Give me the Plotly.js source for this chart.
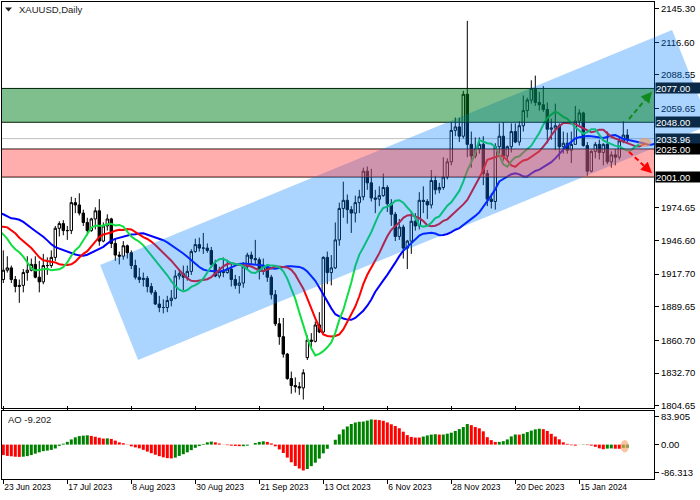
<!DOCTYPE html>
<html><head><meta charset="utf-8">
<script src="https://cdn.plot.ly/plotly-3.0.1.min.js"></script>
<style>html,body{margin:0;padding:0;background:#fff;}#chart{width:700px;height:500px;}</style>
</head><body><div id="chart"></div>
<script>
// ---------------- DATA ----------------
const symbolTitle = 'XAUUSD,Daily';
const aoLabel = 'AO -9.202';
const dateTickBars = [0, 16, 32, 48, 64, 80, 96, 112, 128, 144];
const dateTickLabels = ['23 Jun 2023','17 Jul 2023','8 Aug 2023','30 Aug 2023','21 Sep 2023','13 Oct 2023','6 Nov 2023','28 Nov 2023','20 Dec 2023','15 Jan 2024'];
const priceTicks = [2145.30, 2116.60, 2088.55, 2059.65, 1974.65, 1946.60, 1917.70, 1889.65, 1860.70, 1832.70, 1804.65];
const aoScaleTicks = [83.905, 0, -86.313];
const greenZone = [2048.00, 2077.00];
const redZone = [2001.00, 2025.00];

// daily bars 23 Jun 2023 .. 31 Jan 2024
const open = [
 1913,1921,1923,1913,1907,1908,
 1919,1921,1926,1915,1911, 1925,1925,1932,1957,1961, 1955,1955,1979,1977,1970, 1962,1955,1965,1972,1946, 1959,
 1965,1944,1934,1933, 1942,1936,1925,1915,1913, 1914,1907,1902,1892,1889, 1889,1895,1897,1916,1918, 1915,1920,1937,1943,
 1940, 1940,1938,1926,1916,1920, 1919,1922,1913,1908,1910, 1924,1934,1931,1930,1920, 1925,1915,1900,1875,1864,
 1849,1828,1822,1821,1820, 1846,1861,1860,1874,1868, 1932,1919,1923,1947,1974, 1981,1973,1970,1979,1984, 2006,1996,
 1983,1982,1985, 1992,1978,1969,1950,1958, 1940,1946,1963,1959,1981, 1980,1977,1998,1990,1992, 2001,2014,2041,2044,
 2036, 2072,2029,2019,2025,2029, 2004,1982,1980,2027,2036, 2019,2027,2040,2031,2045, 2058,2067,2077,2065,
 2063,2059,2042,2043, 2045,2027,2030,2024,2029, 2049,2056,2028,2006,2023, 2029,2022,2029,2014,2020, 2018,2032,2037
];
const high = [
 1938,1933,1925,1916,1913,1922,
 1933,1931,1933,1929,1935, 1932,1938,1959,1963,1964, 1959,1984,1983,1987,1973, 1966,1966,1975,1982,1962, 1969,
 1966,1948,1937,1946, 1943,1938,1930,1923,1919, 1916,1910,1904,1899,1896, 1899,1904,1921,1922,1925, 1925,1939,1948,1949,
 1953, 1944,1941,1930,1924,1932, 1930,1928,1917,1916,1928, 1936,1937,1947,1932,1931, 1926,1917,1904,1880,1880,
 1850,1834,1829,1825,1836, 1865,1867,1877,1885,1933, 1937,1934,1962,1979,1997, 1986,1976,1985,1990,2009, 2010,2008,
 1990,1993,2004, 1994,1982,1971,1965,1960, 1947,1971,1970,1988,1993, 1982,2007,2002,1996,2018, 2017,2048,2052,2052,
 2075, 2135,2040,2035,2035,2036, 2007,1987,2030,2047,2048, 2028,2047,2047,2049,2071, 2069,2084,2088,2074,
 2079,2065,2051,2064, 2047,2040,2039,2040,2062, 2059,2057,2031,2024,2031, 2033,2030,2040,2023,2025, 2035,2049,2042
];
const low = [
 1910,1919,1910,1902,1893,1902,
 1912,1920,1914,1902,1909, 1917,1923,1929,1950,1951, 1947,1952,1970,1968,1959, 1951,1954,1956,1942,1945, 1955,
 1940,1929,1926,1930, 1931,1922,1913,1910,1907, 1902,1900,1891,1885,1884, 1885,1890,1896,1913,1904, 1912,1917,1936,1937,
 1935, 1936,1923,1915,1914,1915, 1918,1907,1905,1901,1906, 1922,1926,1926,1913,1917, 1911,1896,1873,1857,1846,
 1827,1815,1816,1814,1810, 1844,1855,1859,1867,1867, 1909,1908,1922,1942,1966, 1961,1953,1962,1970,1981, 1990,1980,
 1970,1976,1984, 1971,1959,1946,1947,1931, 1922,1935,1955,1956,1970, 1965,1974,1986,1987,1990, 1999,2011,2036,2031,
 2034, 2018,2009,2017,2021,1994, 1976,1974,1973,2021,2015, 2016,2022,2030,2028,2040, 2052,2064,2062,2058,
 2057,2030,2033,2024, 2016,2021,2021,2013,2029, 2045,2027,2002,2005,2017, 2016,2011,2012,2009,2011, 2016,2030,2030
];
const close = [
 1921,1923,1913,1907,1908,1919,
 1921,1926,1915,1911,1925, 1925,1932,1957,1961,1955, 1955,1979,1977,1970,1962, 1955,1965,1972,1946,1959, 1965,
 1944,1934,1933,1942, 1936,1925,1915,1913,1914, 1907,1902,1892,1889,1889, 1895,1897,1916,1918,1915, 1920,1937,1943,1940,
 1940, 1938,1926,1916,1920,1919, 1922,1913,1908,1910,1924, 1934,1931,1930,1920,1925, 1915,1900,1875,1864,1849,
 1828,1822,1821,1820,1833, 1861,1860,1874,1868,1932, 1919,1923,1947,1974,1981, 1973,1970,1979,1984,2006, 1996,1983,
 1982,1985,1992, 1978,1969,1950,1958,1940, 1946,1963,1959,1981,1980, 1977,1998,1990,1992,2001, 2014,2041,2044,2036,
 2072, 2029,2019,2025,2029,2004, 1982,1980,2027,2036,2019, 2027,2040,2031,2045,2058, 2067,2077,2065,2063,
 2059,2042,2043,2045, 2027,2030,2024,2029,2049, 2056,2028,2006,2023,2029, 2022,2029,2014,2020,2018, 2032,2037,2033.96
];
// bars before the visible window (20 Apr .. 22 Jun 2023), only used to warm up the indicators
const priorHigh = [2013,2006,1995,2004,2009,2003,1998, 1991,2019,2041,2081,2049, 2029,2037,2048,2037,2022,
 2022,2022,1993,1985,1984, 1983,1982,1985,1963,1957, 1948,1963,1974,1983,1983, 1964,1966,1967,1966,1972,
 1963,1971,1960,1959,1969, 1960,1950,1940,1934];
const priorLow = [1993,1975,1974,1986,1985,1974,1976, 1969,1977,2013,2033,2005, 2015,2018,2018,2009,2005,
 2008,1987,1974,1952,1951, 1969,1955,1957,1936,1938, 1938,1932,1955,1956,1947, 1938,1951,1940,1938,1958,
 1949,1940,1939,1925,1953, 1947,1930,1925,1910];

// ---------------- INDICATORS (Alligator 13/8, 8/5, 5/3 on median; AO 5/34) ----------------
const P = priorHigh.length, N = close.length;
const allHigh = priorHigh.concat(high), allLow = priorLow.concat(low);
const median = allHigh.map((h, k) => (h + allLow[k]) / 2);
function sma(src, n) {
  return src.map((_, k) => {
    if (k < n - 1) return null;
    let s = 0; for (let q = k - n + 1; q <= k; q++) s += src[q]; return s / n;
  });
}
function smma(src, n) {
  const out = new Array(src.length).fill(null); let s = 0;
  for (let k = n - 1; k < src.length; k++) {
    if (k === n - 1) { let t = 0; for (let q = 0; q < n; q++) t += src[q]; s = t / n; }
    else s = (s * (n - 1) + src[k]) / n;
    out[k] = s;
  }
  return out;
}
function shifted(series, shift) {
  const xs = [], ys = [];
  series.forEach((v, k) => { if (v === null) return; const xi = k - P + shift; if (xi < -3) return; xs.push(xi); ys.push(v); });
  return { xs, ys };
}
const jaw = shifted(smma(median, 13), 8);
const teeth = shifted(smma(median, 8), 5);
const lips = shifted(smma(median, 5), 3);
const sma5 = sma(median, 5), sma34 = sma(median, 34);
const bars = Array.from({ length: N }, (_, i) => i);
const ao = bars.map(i => sma5[i + P] - sma34[i + P]);
const aoBefore = sma5[P - 1] - sma34[P - 1];
const aoColors = ao.map((v, i) => v > (i ? ao[i - 1] : aoBefore) ? '#008000' : '#ff0000');
const lastPrice = close[N - 1];

// ---------------- LAYOUT GEOMETRY ----------------
const W = 700, H = 500, M = { l: 2, r: 46, t: 2, b: 21 };
const pw = W - M.l - M.r, ph = H - M.t - M.b;
const xr = [-0.325, 162.675];
const yr = [1802.75, 2151.19];
const aoR = [-104.55, 102.14];
const mainDom = [0.14885, 1], aoDom = [0, 0.14256];
const pxX = x => (x - M.l) / pw;
const pxY = y => (H - M.b - y) / ph;
const ix2p = i => (i - xr[0]) / (xr[1] - xr[0]);
const pr2p = p => mainDom[0] + (p - yr[0]) / (yr[1] - yr[0]) * (mainDom[1] - mainDom[0]);

// channel corners (bar index, price)
const chA = [24.2, 1925.5], chB = [167.2, 2127.2], chD = [33.7, 1844.0];
const chC = [chB[0] + chD[0] - chA[0], chB[1] + chD[1] - chA[1]];
const chPath = [chA, chB, chC, chD].map((p, k) => (k ? 'L' : 'M') + ix2p(p[0]) + ',' + pr2p(p[1])).join(' ') + ' Z';

function arrow(t, h, color) {
  const dx = h[0] - t[0], dy = h[1] - t[1], L = Math.hypot(dx, dy), ux = dx / L, uy = dy / L;
  const hl = 11, hw = 5.5, bx = h[0] - ux * hl, by = h[1] - uy * hl, nx = -uy, ny = ux;
  const p1 = [bx + nx * hw, by + ny * hw], p2 = [bx - nx * hw, by - ny * hw];
  return [
    { type: 'line', xref: 'paper', yref: 'paper', x0: pxX(t[0]), y0: pxY(t[1]), x1: pxX(bx), y1: pxY(by), line: { color, width: 2, dash: '5px,3px' }, layer: 'above' },
    { type: 'path', xref: 'paper', yref: 'paper', path: `M${pxX(h[0])},${pxY(h[1])} L${pxX(p1[0])},${pxY(p1[1])} L${pxX(p2[0])},${pxY(p2[1])} Z`, fillcolor: color, line: { width: 0 }, layer: 'above' }
  ];
}

const FONT = 'Liberation Sans, Arial, sans-serif';
const hline = (y, color) => ({ type: 'line', xref: 'x', yref: 'y', x0: xr[0], x1: xr[1], y0: y, y1: y, line: { color, width: 1 }, layer: 'above' });

const shapes = [
  { type: 'line', xref: 'x', yref: 'y', x0: xr[0], x1: xr[1], y0: lastPrice, y1: lastPrice, line: { color: '#c0c0c0', width: 1 }, layer: 'below' },
  hline(greenZone[0], '#000'), hline(greenZone[1], '#000'), hline(redZone[0], '#000'), hline(redZone[1], '#000'),
  { type: 'path', xref: 'paper', yref: 'paper', path: chPath, fillcolor: 'rgba(0,125,255,0.33)', line: { width: 0 }, layer: 'above' },
  { type: 'rect', xref: 'x', yref: 'y', x0: xr[0], x1: xr[1], y0: greenZone[0], y1: greenZone[1], fillcolor: 'rgba(0,128,30,0.5)', line: { width: 0 }, layer: 'above' },
  { type: 'rect', xref: 'x', yref: 'y', x0: xr[0], x1: xr[1], y0: redZone[0], y1: redZone[1], fillcolor: 'rgba(255,60,60,0.42)', line: { width: 0 }, layer: 'above' },
  ...arrow([629, 119], [652, 91.7], '#108a1c'),
  ...arrow([629, 151.7], [652, 173.3], '#ff0000'),
  { type: 'circle', xref: 'x', yref: 'y', x0: 158.8, x1: 162.0, y0: 2026.7, y1: 2034.5, fillcolor: 'rgba(245,150,90,0.6)', line: { width: 0 }, layer: 'above' },
  { type: 'circle', xref: 'x', yref: 'y2', x0: 154.35, x1: 156.35, y0: -24, y1: 14, fillcolor: 'rgba(250,165,110,0.65)', line: { width: 0 }, layer: 'above' },
  { type: 'path', xref: 'paper', yref: 'paper', path: `M${pxX(5)},${pxY(7.5)} L${pxX(12)},${pxY(7.5)} L${pxX(8.5)},${pxY(11.5)} Z`, fillcolor: '#222', line: { width: 0 }, layer: 'above' }
];

const levelBoxes = [
  { v: greenZone[1], bg: '#0b2a48' }, { v: greenZone[0], bg: '#0b2a48' }, { v: lastPrice, bg: '#0b2a48' },
  { v: redZone[1], bg: '#000' }, { v: redZone[0], bg: '#000' }
];
const annotations = [
  { xref: 'paper', yref: 'paper', x: pxX(17), y: pxY(10), xanchor: 'left', yanchor: 'middle', text: symbolTitle, showarrow: false, font: { family: FONT, size: 9.5, color: '#222' } },
  { xref: 'paper', yref: 'paper', x: pxX(6), y: pxY(419), xanchor: 'left', yanchor: 'middle', text: aoLabel, showarrow: false, font: { family: FONT, size: 9.5, color: '#222' } },
  ...levelBoxes.map(b => ({ xref: 'paper', yref: 'y', x: pxX(655), y: b.v, xanchor: 'left', yanchor: 'middle', text: b.v.toFixed(2), showarrow: false, align: 'left', width: 46, height: 10, borderpad: 0, bgcolor: b.bg, font: { family: FONT, size: 9.5, color: '#fff' } }))
];

const traces = [
  { type: 'candlestick', x: bars, open, high, low, close, xaxis: 'x', yaxis: 'y', whiskerwidth: 0, hoverinfo: 'none',
    increasing: { line: { color: '#000', width: 1 }, fillcolor: '#fff' },
    decreasing: { line: { color: '#000', width: 1 }, fillcolor: '#000' } },
  { type: 'scatter', mode: 'lines', x: jaw.xs, y: jaw.ys, line: { color: '#0000ff', width: 2 }, xaxis: 'x', yaxis: 'y', hoverinfo: 'none' },
  { type: 'scatter', mode: 'lines', x: teeth.xs, y: teeth.ys, line: { color: '#ff0000', width: 2 }, xaxis: 'x', yaxis: 'y', hoverinfo: 'none' },
  { type: 'scatter', mode: 'lines', x: lips.xs, y: lips.ys, line: { color: '#10dd40', width: 2 }, xaxis: 'x', yaxis: 'y', hoverinfo: 'none' },
  { type: 'bar', x: bars, y: ao, marker: { color: aoColors, line: { width: 0 } }, xaxis: 'x', yaxis: 'y2', hoverinfo: 'none' }
];

const layout = {
  width: W, height: H, margin: M, paper_bgcolor: '#fff', plot_bgcolor: '#fff',
  showlegend: false, hovermode: false, dragmode: false, bargap: 0.25, boxgap: 0.4, boxgroupgap: 0,
  xaxis: { domain: [0, 1], range: xr, anchor: 'y2', showgrid: false, zeroline: false, showline: true, mirror: 'all',
    linecolor: '#000', linewidth: 1, ticks: 'outside', ticklen: 4, tickcolor: '#000',
    tickvals: dateTickBars, ticktext: dateTickLabels, ticklabelposition: 'outside right',
    tickfont: { family: FONT, size: 8.5, color: '#000' }, rangeslider: { visible: false }, fixedrange: true },
  yaxis: { domain: mainDom, range: yr, side: 'right', anchor: 'x', showgrid: false, zeroline: false, showline: true, mirror: true,
    linecolor: '#000', linewidth: 1, ticks: 'outside', ticklen: 4, tickcolor: '#000',
    tickvals: priceTicks, ticktext: priceTicks.map(v => v.toFixed(2)), tickfont: { family: FONT, size: 9.5, color: '#000' }, fixedrange: true },
  yaxis2: { domain: aoDom, range: aoR, side: 'right', anchor: 'x', showgrid: false, zeroline: false, showline: true, mirror: true,
    linecolor: '#000', linewidth: 1, ticks: 'outside', ticklen: 4, tickcolor: '#000',
    tickvals: aoScaleTicks, ticktext: aoScaleTicks.map(v => v === 0 ? '0.00' : String(v)), tickfont: { family: FONT, size: 9.5, color: '#000' }, fixedrange: true },
  shapes, annotations
};

Plotly.newPlot('chart', traces, layout, { staticPlot: true, displayModeBar: false });
</script>
</body></html>
